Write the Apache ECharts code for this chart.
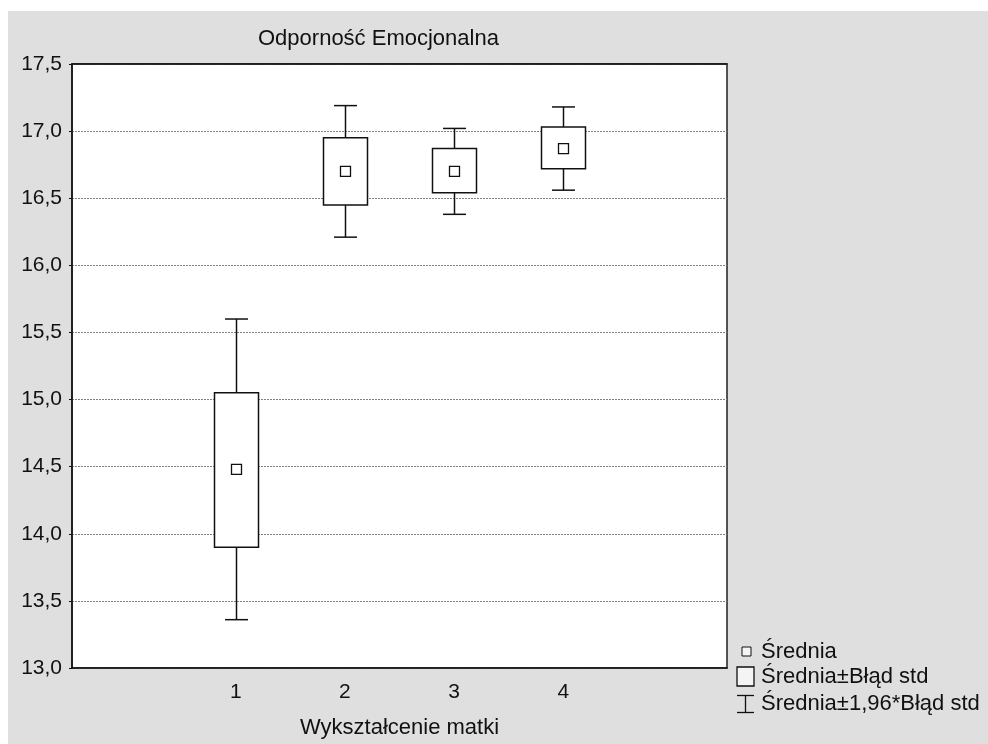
<!DOCTYPE html>
<html>
<head>
<meta charset="utf-8">
<script src="https://cdn.jsdelivr.net/npm/echarts@6/dist/echarts.min.js"></script>
<style>
  html, body { margin: 0; padding: 0; background: #fff; }
  #chart { width: 988px; height: 744px; }
</style>
</head>
<body>
<div id="chart"></div>
<script>
// axis categories (outer two are empty slots, as in the original)
const categories = ['', '1', '2', '3', '4', ' ']
const groups = ['1', '2', '3', '4']
// mean, mean ± std error, mean ± 1.96 * std error
const means  = [14.48, 16.70, 16.70, 16.87]
const seLow  = [13.90, 16.45, 16.54, 16.72]
const seHigh = [15.05, 16.95, 16.87, 17.03]
const ciLow  = [13.36, 16.21, 16.38, 16.56]
const ciHigh = [15.60, 17.19, 17.02, 17.18]
const yTicks = [13, 17.5, 0.5]
const legendNames = ['Średnia', 'Średnia±Błąd std', 'Średnia±1,96*Błąd std']

const FONT = '"Liberation Sans", Arial, sans-serif'
const FS = 21      // tick labels
const FS_BIG = 22  // title, axis name, legend
const INK = '#111'

const chart = echarts.init(document.getElementById('chart'))

const seriesData = groups.map((g, i) => [g, ciLow[i], seLow[i], means[i], seHigh[i], ciHigh[i]])

function renderItem(params, api) {
  const x = api.value(0)
  const pLo = api.coord([x, api.value(1)])
  const pSeLo = api.coord([x, api.value(2)])
  const pMean = api.coord([x, api.value(3)])
  const pSeHi = api.coord([x, api.value(4)])
  const pHi = api.coord([x, api.value(5)])
  const cx = Math.round(pMean[0]) + 0.5
  const boxW = 44, capW = 23, markW = 10
  const line = {stroke: INK, lineWidth: 1.5}
  return {
    type: 'group',
    children: [
      {type: 'line', shape: {x1: cx, y1: pHi[1], x2: cx, y2: pSeHi[1]}, style: line},
      {type: 'line', shape: {x1: cx, y1: pSeLo[1], x2: cx, y2: pLo[1]}, style: line},
      {type: 'line', shape: {x1: cx - capW / 2, y1: pHi[1], x2: cx + capW / 2, y2: pHi[1]}, style: line},
      {type: 'line', shape: {x1: cx - capW / 2, y1: pLo[1], x2: cx + capW / 2, y2: pLo[1]}, style: line},
      {type: 'rect', shape: {x: cx - boxW / 2, y: pSeHi[1], width: boxW, height: pSeLo[1] - pSeHi[1]},
        style: {fill: '#fff', stroke: INK, lineWidth: 1.5}},
      {type: 'rect', shape: {x: cx - markW / 2, y: pMean[1] - markW / 2, width: markW, height: markW},
        style: {fill: '#fff', stroke: INK, lineWidth: 1.3}}
    ]
  }
}

const legendText = {fontFamily: FONT, fontSize: FS_BIG, fill: INK, verticalAlign: 'middle'}

chart.setOption({
  backgroundColor: '#fff',
  animation: false,
  textStyle: {fontFamily: FONT, color: INK},
  title: {
    text: 'Odporność Emocjonalna',
    left: 253, top: 23,
    textStyle: {fontFamily: FONT, fontSize: FS_BIG, fontWeight: 'normal', color: INK}
  },
  grid: {
    left: 72, top: 64, right: 261, bottom: 76,
    show: true, backgroundColor: '#fff', borderColor: '#222', borderWidth: 1.5
  },
  xAxis: [
    {
      type: 'category', data: categories, position: 'bottom',
      name: 'Wykształcenie matki', nameLocation: 'middle', nameGap: 49,
      nameTextStyle: {fontFamily: FONT, fontSize: FS_BIG, color: INK},
      axisLine: {lineStyle: {color: INK, width: 1.5}},
      axisTick: {inside: true, alignWithLabel: true, length: 6, lineStyle: {color: INK}},
      axisLabel: {fontFamily: FONT, fontSize: FS, color: INK, margin: 14},
      splitLine: {show: false}
    },
    {
      type: 'category', data: categories, position: 'top',
      axisLine: {lineStyle: {color: INK, width: 1.5}},
      axisTick: {inside: true, alignWithLabel: true, length: 5, lineStyle: {color: INK}},
      axisLabel: {show: false},
      splitLine: {show: false}
    }
  ],
  yAxis: {
    type: 'value', min: yTicks[0], max: yTicks[1], interval: yTicks[2],
    axisLine: {show: true, lineStyle: {color: INK, width: 1.5}},
    axisTick: {show: true, length: 3, lineStyle: {color: INK}},
    axisLabel: {
      fontFamily: FONT, fontSize: FS, color: INK, margin: 10,
      formatter: v => v.toFixed(1).replace('.', ',')
    },
    splitLine: {lineStyle: {color: '#808080', type: [2, 1], width: 1}}
  },
  series: [{
    type: 'custom',
    renderItem: renderItem,
    encode: {x: 0, y: [1, 2, 3, 4, 5]},
    data: seriesData,
    z: 5
  }],
  graphic: [
    {type: 'rect', left: 8, top: 11, z: -100, silent: true,
      shape: {width: 980, height: 733}, style: {fill: '#dfdfdf'}},
    // legend
    {type: 'rect', x: 742, y: 647, z: 10, shape: {width: 9, height: 9},
      style: {fill: '#f4f4f4', stroke: INK, lineWidth: 1}},
    {type: 'text', x: 761, y: 652, z: 10, style: Object.assign({text: legendNames[0]}, legendText)},
    {type: 'rect', x: 737, y: 667, z: 10, shape: {width: 17, height: 19},
      style: {fill: '#f4f4f4', stroke: INK, lineWidth: 1.3}},
    {type: 'text', x: 761, y: 677, z: 10, style: Object.assign({text: legendNames[1]}, legendText)},
    {type: 'polyline', z: 10, shape: {points: [[737, 695.5], [754, 695.5]]}, style: {stroke: INK, lineWidth: 1.3}},
    {type: 'polyline', z: 10, shape: {points: [[737, 712.5], [754, 712.5]]}, style: {stroke: INK, lineWidth: 1.3}},
    {type: 'polyline', z: 10, shape: {points: [[745.5, 695.5], [745.5, 712.5]]}, style: {stroke: INK, lineWidth: 1.3}},
    {type: 'text', x: 761, y: 704, z: 10, style: Object.assign({text: legendNames[2]}, legendText)}
  ]
})
</script>
</body>
</html>
